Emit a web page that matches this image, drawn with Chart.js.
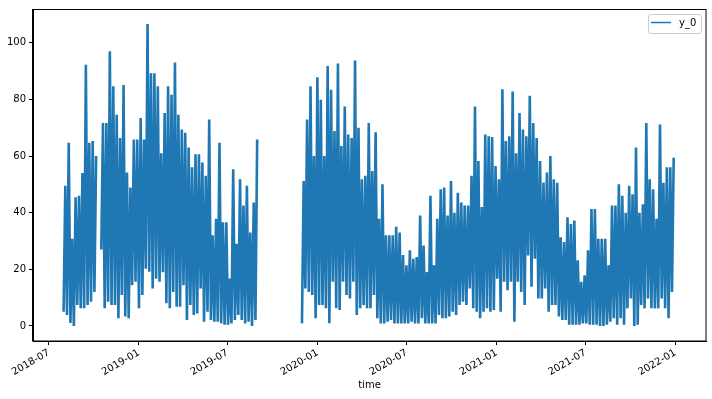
<!DOCTYPE html>
<html>
<head>
<meta charset="utf-8">
<script src="https://cdn.jsdelivr.net/npm/chart.js@4/dist/chart.umd.min.js"></script>
<style>
  html, body { margin: 0; padding: 0; background: #fff; }
</style>
</head>
<body>
<canvas id="chart" width="712" height="399"></canvas>
<script>
const DAY = 86400000;
const seriesName = 'y_0';
const xLabel = 'time';
const tickMonths = ['2018-07', '2019-01', '2019-07', '2020-01', '2020-07', '2021-01', '2021-07', '2022-01'];
const yTicks = [0, 20, 40, 60, 80, 100];
const dataFrom = '2018-07-31';
const dataTo = '2022-01-01';
const stepDays = 7;

// first block of readings, one low and one high per week
const startA = '2018-07-31';
const highsA = [49.5, 64.7, 30.8, 45.4, 46, 54, 92.2, 64.7, 65.3, 60,
  null, 71.7, 71.7, 97, 84.6, 74.6, 66.4, 85.1, 54.2, 48.9,
  65.8, 65.8, 73.4, 65.8, 106.6, 89.2, 89.2, 84.6, 61, 75.2,
  84.6, 81.6, 93, 74.6, 69.4, 68.2, 63, 56, 60.6, 60.6,
  57.7, 53, 72.9, 32, 37.8, 64.7, 36.6, 36.6, 16.7, 55.3,
  29, 51.8, 42.5, 49.5, 33, 43.6, 65.8];
const lowsA = [5, 3.9, 1, 0, 7.4, 6.2, 6.2, 7.4, 8.5, 12,
  null, 27, 6.2, 8.5, 7.4, 7.4, 2.7, 10.9, 3.3, 2.7,
  14.4, 15.6, 6.2, 10.9, 20.2, 19.1, 13.2, 16.7, 15.6, 19,
  8, 6.2, 12, 6.8, 6.8, 14.4, 2.1, 7.4, 3.9, 4.4,
  13.2, 1.5, 5, 2.1, 1.5, 1.5, 0.9, 0.4, 0.4, 0.9,
  2.1, 3.9, 2.1, 0.9, 1.5, 0, 2.1];

// second block, after the autumn 2019 gap
const startB = '2019-11-30';
const highsB = [51.2, 72.9, 84.6, 60, 87.8, 79.9, 60, 91.8, 83.4, 68.8,
  92.7, 63.5, 77.5, 67.6, 66.4, 93.7, 70, 51.8, 53, 71.7,
  54.7, 68.4, 37.8, 50, 32, 32, 32, 35, 33, 25,
  21.4, 26.7, 23.7, 24.3, 39, 28.4, 19, 46, 21.4, 37.8,
  48.3, 48.9, 39, 51.2, 40, 47, 43.6, 42.5, 42.5, 53,
  77.5, 58.2, 42, 67.6, 67, 66.7, 56.5, 51.8, 83.6, 65.3,
  67, 82.8, 61, 75.2, 69.4, 67, 81.3, 71.7, 66.4, 58.2,
  50.6, 54.2, 60, 51.8, 50.6, 31.3, 29.6, 38.4, 36, 37.2,
  23.2, 15.6, 17.9, 26.7, 41.3, 41.3, 30.8, 30.8, 30.8, 21.4,
  42.5, 42.5, 50, 46, 40, 49.5, 46.5, 63, 40, 43,
  71.7, 51.8, 48.3, 37.8, 71.1, 50.6, 56, 56, 59.4];
const lowsB = [0.9, 13.2, 12, 10.9, 2.7, 7.4, 7.4, 6.2, 0.9, 15.6,
  6.2, 5.6, 15.6, 10.9, 9.7, 15.6, 3.9, 6.2, 7.4, 6.2,
  6.2, 10.9, 2.7, 0.9, 0.9, 1.5, 2.1, 0.9, 0.9, 0.9,
  0.9, 0.9, 1.5, 0.9, 0.9, 2.7, 0.9, 0.9, 0.9, 0.9,
  3.9, 2.7, 2.7, 3.3, 5, 3.9, 7.4, 8.5, 7.4, 13.2,
  6.2, 5, 2.7, 5, 6.2, 5, 5.6, 16.7, 5, 15.6,
  12.6, 15.6, 1.5, 15.6, 12, 7.4, 24.9, 13.8, 23.7, 9.7,
  9.7, 13.2, 5, 7.4, 7.4, 3.3, 2.1, 2.1, 0.4, 0.4,
  0.4, 0.4, 0.9, 0.9, 0.4, 0.4, 0.4, 0, 0, 0.4,
  1.5, 2.7, 0.4, 2.7, 0.4, 6.2, 9.7, 0, 0.4, 7.4,
  6.2, 9.7, 6.2, 6.2, 6.2, 9.7, 6.2, 2.7, 12];

const blue = '#1f77b4';
const fontFamily = "'DejaVu Sans', sans-serif";

function weeklyPoints(start, lows, highs) {
    const t0 = Date.parse(start);
    const pts = [];
    lows.forEach((lo, i) => {
        const t = t0 + i * stepDays * DAY;
        pts.push({ x: t, y: lo });
        pts.push({ x: t + stepDays * DAY / 2, y: highs[i] });
    });
    return pts;
}

const pointsA = weeklyPoints(startA, lowsA, highsA);
const pointsB = weeklyPoints(startB, lowsB, highsB);
const gapAt = (pointsA[pointsA.length - 1].x + pointsB[0].x) / 2;
const points = [...pointsA, { x: gapAt, y: null }, ...pointsB];

// matplotlib style 5% margins
const xMin = Date.parse(dataFrom), xMax = Date.parse(dataTo);
const xPad = (xMax - xMin) * 0.05;
const allY = [...highsA, ...lowsA, ...highsB, ...lowsB].filter(v => v !== null);
const yLo = Math.min(...allY), yHi = Math.max(...allY);
const yPad = (yHi - yLo) * 0.05;

function monthLabel(v) {
    const d = new Date(v);
    return d.getUTCFullYear() + '-' + String(d.getUTCMonth() + 1).padStart(2, '0');
}

const framePlugin = {
    id: 'frame',
    afterDraw(chart) {
        const { ctx, chartArea: a } = chart;
        ctx.save();
        ctx.strokeStyle = '#000';
        ctx.lineWidth = 1;
        ctx.strokeRect(Math.round(a.left) - 0.5, Math.round(a.top) + 0.5,
            Math.round(a.right - a.left) + 0.5, Math.round(a.bottom - a.top) - 0.5);

        // legend, upper right
        const bw = 53, bh = 19;
        const bx = a.right - 5 - bw, by = a.top + 5;
        ctx.beginPath();
        ctx.roundRect(bx + 0.5, by + 0.5, bw, bh, 2.5);
        ctx.fillStyle = 'rgba(255,255,255,0.8)';
        ctx.fill();
        ctx.strokeStyle = '#cccccc';
        ctx.stroke();
        ctx.beginPath();
        ctx.moveTo(bx + 3, by + 8.5);
        ctx.lineTo(bx + 23, by + 8.5);
        ctx.strokeStyle = blue;
        ctx.lineWidth = 1.5;
        ctx.stroke();
        ctx.fillStyle = '#000';
        ctx.font = '10px ' + fontFamily;
        ctx.textBaseline = 'alphabetic';
        ctx.fillText(seriesName, bx + 31, by + 12);
        ctx.restore();
    }
};

new Chart(document.getElementById('chart'), {
    type: 'line',
    data: {
        datasets: [{
            label: seriesName,
            data: points,
            borderColor: blue,
            // thick stroke so the weekly zigzag reads as the dense band of the original
            borderWidth: 2.6,
            borderJoinStyle: 'bevel',
            pointRadius: 0,
            tension: 0,
            spanGaps: false,
            fill: false
        }]
    },
    options: {
        responsive: false,
        animation: false,
        events: [],
        layout: { padding: { top: 7, right: 6, left: 0, bottom: 0 } },
        plugins: {
            legend: { display: false },
            tooltip: { enabled: false }
        },
        scales: {
            x: {
                type: 'linear',
                min: xMin - xPad,
                max: xMax + xPad,
                afterFit: s => { s.height = 58; },
                afterBuildTicks: s => { s.ticks = tickMonths.map(m => ({ value: Date.parse(m + '-01') })); },
                ticks: {
                    callback: v => monthLabel(v),
                    autoSkip: false,
                    minRotation: 30,
                    maxRotation: 30,
                    color: '#000',
                    padding: 2,
                    font: { family: fontFamily, size: 10 }
                },
                grid: { drawOnChartArea: false, drawTicks: true, tickLength: 4, color: '#000' },
                border: { display: true, color: '#000', width: 1 },
                title: {
                    display: true,
                    text: xLabel,
                    color: '#000',
                    font: { family: fontFamily, size: 10 },
                    padding: { top: 0, bottom: 8 }
                }
            },
            y: {
                min: yLo - yPad,
                max: yHi + yPad,
                afterFit: s => { s.width = 33; },
                afterBuildTicks: s => { s.ticks = yTicks.map(v => ({ value: v })); },
                ticks: {
                    callback: v => String(v),
                    color: '#000',
                    padding: 3,
                    font: { family: fontFamily, size: 10 }
                },
                grid: { drawOnChartArea: false, drawTicks: true, tickLength: 4, color: '#000' },
                border: { display: true, color: '#000', width: 1 }
            }
        }
    },
    plugins: [framePlugin]
});
</script>
</body>
</html>
